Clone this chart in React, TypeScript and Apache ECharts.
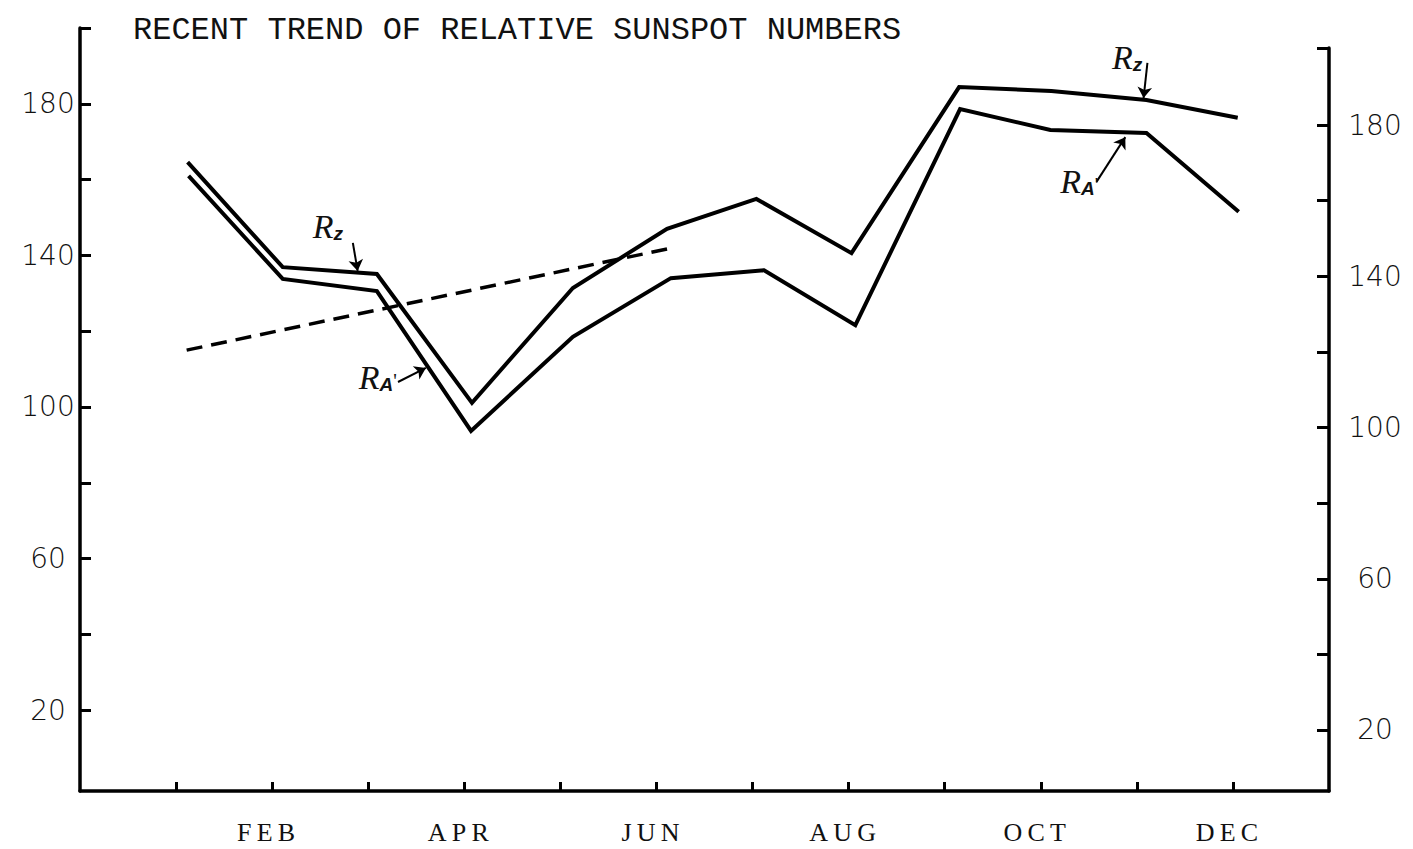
import React, { useEffect, useRef } from "react";
import * as echarts from "echarts";

const titleText = "RECENT TREND OF RELATIVE SUNSPOT NUMBERS";
const months = ["JAN", "FEB", "MAR", "APR", "MAY", "JUN", "JUL", "AUG", "SEP", "OCT", "NOV", "DEC"];
const monthTicks = [1, 2, 3, 4, 5, 6, 7, 8, 9, 10, 11, 12];
const monthLabelTicks = [2, 4, 6, 8, 10, 12];

// R_z (upper curve)
const rzX = [1.12, 2.11, 3.09, 4.08, 5.13, 6.11, 7.04, 8.03, 9.15, 10.11, 11.1, 12.05];
const rzY = [164.6, 136.9, 135.1, 101.1, 131.4, 147.0, 154.9, 140.6, 184.4, 183.4, 181.0, 176.3];
// R_A' (lower curve)
const raX = [1.13, 2.11, 3.09, 4.07, 5.13, 6.15, 7.12, 8.07, 9.16, 10.1, 11.1, 12.06];
const raY = [161.0, 133.8, 130.6, 93.7, 118.5, 134.0, 136.1, 121.6, 178.6, 173.1, 172.3, 151.5];
// dashed trend
const trendX = [1.11, 6.11];
const trendY = [115.0, 141.7];

const yTicks = [20, 40, 60, 80, 100, 120, 140, 160, 180];
const yLabels = [20, 60, 100, 140, 180];

export default function App() {
  const ref = useRef<HTMLDivElement>(null);
  useEffect(() => {
    if (!ref.current) return;
    const chart = echarts.init(ref.current, null, { renderer: "svg" });
    const black = "#000";
    const textCol = "#111";
    const numFont = { fontFamily: "DejaVu Sans", fontSize: 28, fontWeight: 200 as any, color: textCol };
    const leftMin = -1.32, leftMax = 200;
    const rightMin = 3.86, rightMax = 200.4;
    const arrowStyle = (c: number) => ({ curveness: c, color: black, width: 2, type: "solid" });

    const rich = {
      r: { fontFamily: "Liberation Serif", fontStyle: "italic", fontSize: 34, color: textCol },
      s: { fontFamily: "Liberation Sans", fontWeight: "bold", fontStyle: "italic", fontSize: 19, color: textCol, padding: [14, 0, 0, 0] },
      p: { fontFamily: "Liberation Serif", fontSize: 20, color: textCol, padding: [6, 0, 0, 0] },
    };

    const option: any = {
      animation: false,
      backgroundColor: "#fff",
      title: {
        text: titleText,
        left: 128,
        top: 9,
        textStyle: { fontFamily: "Liberation Mono", fontSize: 32, fontWeight: "normal", color: textCol },
      },
      grid: [
        { left: 80, width: 1249, top: 28, height: 763, containLabel: false },
        { left: 80, width: 1249, top: 48, height: 743, containLabel: false },
        { left: 0, width: 80, top: 28, height: 763, containLabel: false },
      ],
      xAxis: [
        {
          type: "value",
          gridIndex: 0,
          min: 0,
          max: 13,
          interval: 1,
          axisLine: { show: true, onZero: false, lineStyle: { color: black, width: 3.5 } },
          axisTick: { show: true, inside: true, length: 9, lineStyle: { color: black, width: 3 }, customValues: monthTicks },
          axisLabel: {
            show: true,
            customValues: monthLabelTicks,
            margin: 28,
            padding: [0, 12, 0, 0],
            fontFamily: "Liberation Serif",
            fontSize: 26,
            color: textCol,
            formatter: (v: number) => months[Math.round(v) - 1].split("").join("\u2009"),
          },
          splitLine: { show: false },
        },
        { type: "value", gridIndex: 1, min: 0, max: 13, show: false },
        { type: "value", gridIndex: 2, min: 0, max: 1, show: false },
      ],
      yAxis: [
        {
          // data scale of the plot (left reading)
          type: "value",
          gridIndex: 0,
          position: "left",
          min: leftMin,
          max: leftMax,
          show: false,
        },
        {
          // right-hand scale
          type: "value",
          gridIndex: 1,
          position: "right",
          min: rightMin,
          max: rightMax,
          axisLine: { show: true, onZero: false, lineStyle: { color: black, width: 3.5 } },
          axisTick: { show: true, inside: true, length: 12, lineStyle: { color: black, width: 3 }, customValues: [...yTicks, rightMax] },
          axisLabel: { show: true, customValues: yLabels, align: "center", margin: 46, ...numFont },
          splitLine: { show: false },
        },
        {
          // left-hand scale, drawn at the plot's left edge with ticks pointing into the plot
          type: "value",
          gridIndex: 2,
          position: "right",
          min: leftMin,
          max: leftMax,
          axisLine: { show: true, onZero: false, lineStyle: { color: black, width: 3.5 } },
          axisTick: { show: true, inside: false, length: 11, lineStyle: { color: black, width: 3 }, customValues: [...yTicks, leftMax] },
          axisLabel: { show: true, inside: true, customValues: yLabels, align: "center", margin: 32, ...numFont },
          splitLine: { show: false },
        },
      ],
      series: [
        {
          name: "Rz",
          type: "line",
          xAxisIndex: 0,
          yAxisIndex: 0,
          data: rzX.map((x, i) => [x, rzY[i]]),
          showSymbol: false,
          lineStyle: { color: black, width: 4, join: "miter", cap: "butt" },
          silent: true,
          markPoint: {
            symbol: "circle",
            symbolSize: 1,
            itemStyle: { color: "rgba(0,0,0,0)" },
            silent: true,
            label: { show: true, position: "inside", rich },
            data: [
              { coord: [2.58, 147.5], label: { formatter: "{r|R}{s|z}" } },
              { coord: [10.9, 192.3], label: { formatter: "{r|R}{s|z}" } },
              { coord: [3.1, 107.7], label: { formatter: "{r|R}{s|A}{p|'}" } },
              { coord: [10.4, 159.4], label: { formatter: "{r|R}{s|A}{p|'}" } },
            ],
          },
          markLine: {
            silent: true,
            symbol: ["none", "arrow"],
            symbolSize: 11,
            label: { show: false },
            lineStyle: { color: black, width: 2, type: "solid" },
            data: [
              [{ coord: [2.84, 143.3], lineStyle: arrowStyle(0.4) }, { coord: [2.89, 135.9], lineStyle: arrowStyle(0.4) }],
              [{ coord: [3.31, 106.6], lineStyle: arrowStyle(-0.3) }, { coord: [3.6, 110.3], lineStyle: arrowStyle(-0.3) }],
              [{ coord: [11.11, 190.8], lineStyle: arrowStyle(0.4) }, { coord: [11.07, 181.5], lineStyle: arrowStyle(0.4) }],
              [{ coord: [10.58, 159.4], lineStyle: arrowStyle(-0.35) }, { coord: [10.88, 171.2], lineStyle: arrowStyle(-0.35) }],
            ],
          },
        },
        {
          name: "RA'",
          type: "line",
          xAxisIndex: 0,
          yAxisIndex: 0,
          data: raX.map((x, i) => [x, raY[i]]),
          showSymbol: false,
          lineStyle: { color: black, width: 4, join: "miter", cap: "butt" },
          silent: true,
        },
        {
          name: "Trend",
          type: "line",
          xAxisIndex: 0,
          yAxisIndex: 0,
          data: trendX.map((x, i) => [x, trendY[i]]),
          showSymbol: false,
          lineStyle: { color: black, width: 3.5, type: [16, 9] },
          silent: true,
        },
      ],
    };
    chart.setOption(option);
    return () => chart.dispose();
  }, []);
  return (
    <div
      ref={ref}
      style={{ position: "fixed", left: 0, top: 0, width: 1413, height: 849, background: "#fff" }}
    />
  );
}
